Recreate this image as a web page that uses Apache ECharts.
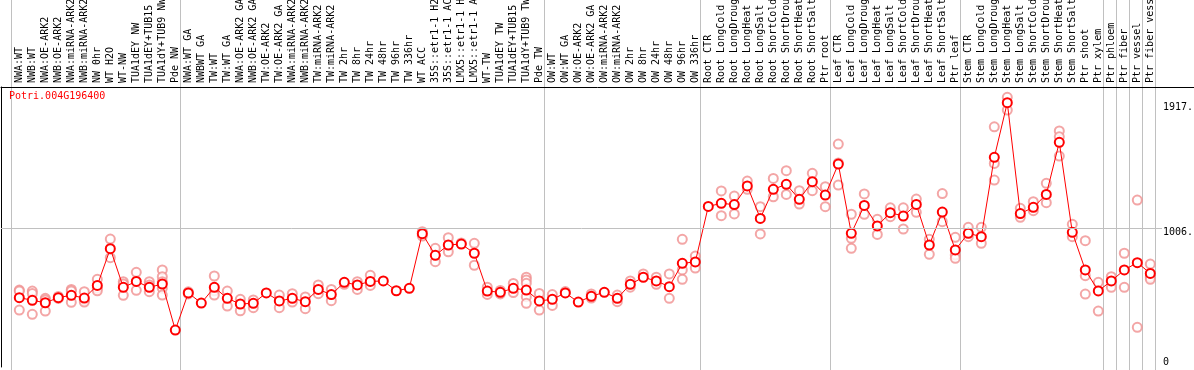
<!DOCTYPE html>
<html><head><meta charset="utf-8">
<script src="https://cdn.jsdelivr.net/npm/echarts@6/dist/echarts.min.js"></script>
<style>html,body{margin:0;padding:0;background:#fff}#c{width:1194px;height:370px}</style>
</head><body><div id="c"></div>
<script>
const geneId = 'Potri.004G196400';
const categories = [
  'NWA:WT','NWB:WT','NWA:OE-ARK2','NWB:OE-ARK2','NWA:miRNA-ARK2','NWB:miRNA-ARK2','NW 0hr','WT H2O','WT-NW','TUA1dEY NW','TUA1dEY+TUB15 NW','TUA1dY+TUB9 NW','Pde NW',
  'NWA:WT GA','NWBWT GA','TW:WT','TW:WT GA','NWA:OE-ARK2 GA','NWB:OE-ARK2 GA','TW:OE-ARK2','TW:OE-ARK2 GA','NWA:miRNA-ARK2','NWB:miRNA-ARK2','TW:miRNA-ARK2','TW:miRNA-ARK2',
  'TW 2hr','TW 8hr','TW 24hr','TW 48hr','TW 96hr','TW 336hr','WT ACC','35S::etr1-1 H2O','35S::etr1-1 ACC','LMX5::etr1-1 H2O','LMX5::etr1-1 ACC','WT-TW','TUA1dEY TW','TUA1dEY+TUB15 TW','TUA1dY+TUB9 TW','Pde TW',
  'OW:WT','OW:WT GA','OW:OE-ARK2','OW:OE-ARK2 GA','OW:miRNA-ARK2','OW:miRNA-ARK2','OW 2hr','OW 8hr','OW 24hr','OW 48hr','OW 96hr','OW 336hr',
  'Root CTR','Root LongCold','Root LongDrought','Root LongHeat','Root LongSalt','Root ShortCold','Root ShortDrought','Root ShortHeat','Root ShortSalt','Ptr root',
  'Leaf CTR','Leaf LongCold','Leaf LongDrought','Leaf LongHeat','Leaf LongSalt','Leaf ShortCold','Leaf ShortDrought','Leaf ShortHeat','Leaf ShortSalt','Ptr leaf',
  'Stem CTR','Stem LongCold','Stem LongDrought','Stem LongHeat','Stem LongSalt','Stem ShortCold','Stem ShortDrought','Stem ShortHeat','Stem ShortSalt','Ptr shoot','Ptr xylem',
  'Ptr phloem','Ptr fiber','Ptr vessel','Ptr fiber vessel'
];
const means = [
  503,484,466,503,520,500,592,858,578,621,578,602,268,
  537,464,578,498,457,462,537,479,498,474,563,525,614,595,621,624,553,571,967,810,885,892,825,551,542,571,558,479,
  491,537,471,513,542,498,600,651,624,583,752,762,
  1165,1187,1178,1313,1078,1289,1325,1216,1344,1247,
  1472,970,1172,1023,1119,1095,1179,885,1124,849,
  970,945,1521,1917,1113,1158,1252,1630,977,704,552,
  624,704,757,679
];
const replicates = [
  [558,551,413],[551,534,382],[498,486,406],[512,497],[563,551,469],[546,486,471],[636,571,553],[928,793],[619,602,520],[687,556],[619,595,546],[704,655,619,571,522],[],
  [545,530],[],[660,553,522],[551,442],[491,408],[486,430],[],[522,430],[532,471],[508,423],[595,532],[563,481],[600],[619,563],[665,592],[],[],[],[981,950],[861,764],[938,836],[900],[897,738],[579,526],[555,530],[606,540],[651,631,607,510,462],[534,413],
  [525,447],[547],[],[530,500],[],[522,474],[624,579],[675],[651,600],[675,498],[926,704,636],[805,718],
  [],[1277,1098],[1240,1110],[1349,1289],[1163,965],[1368,1235],[1424,1252],[1279,1182],[1405,1279],[1308,1163],
  [1617,1480,1320],[1108,933,861],[1255,1108],[1071,962],[1155,1090],[1155,1001],[1218,1122],[926,817],[1258,1054],[941,812,788],
  [1013,945],[1013,897],[1742,1477,1356],[1956,1864],[1151,1086],[1199,1134],[1332,1192],[1712,1670,1530],[1035,945],[916,662,529],[614,406],
  [655,578],[825,578],[1211,288],[747,651,636]
];
const groupStarts = [0,13,41,53,63,73,84,85,86,87];
const yTickValues = [0, 1006, 1917];
const yTickLabels = ['0', '1006.', '1917.'];
const refLineValue = 1006;
const yMax = 2031;

const MONO = 'DejaVu Sans Mono';
const repData = [];
replicates.forEach((arr, i) => arr.forEach(v => repData.push([i, v])));

const chart = echarts.init(document.getElementById('c'), null, {renderer: 'canvas'});
const hidden = {show: false};
const gridBase = {outerBoundsMode: 'none', containLabel: false};
chart.setOption({
  animation: false,
  backgroundColor: '#fff',
  title: {text: geneId, left: 9, top: 91, padding: 0,
    textStyle: {color: '#ff0000', fontSize: 10, fontFamily: MONO, fontWeight: 'normal'}},
  grid: [
    Object.assign({left: 1, right: 0, top: 87, bottom: 3}, gridBase),
    Object.assign({left: 1, right: 32, top: 87, bottom: 3}, gridBase),
    Object.assign({left: 11, right: 39, top: 0, bottom: 0}, gridBase),
    Object.assign({left: 12.8, right: 37.2, top: 87, bottom: 3}, gridBase)
  ],
  xAxis: [
    {gridIndex: 0, type: 'value', min: 0, max: 1, position: 'top',
      axisLine: {show: true, onZero: false, lineStyle: {color: '#000', width: 1}}, axisTick: hidden, axisLabel: hidden, splitLine: hidden},
    {gridIndex: 1, type: 'value', min: 0, max: 1, show: false},
    {gridIndex: 2, type: 'category', data: categories, boundaryGap: true,
      axisLine: hidden, axisTick: hidden, axisLabel: hidden,
      splitLine: {show: true, interval: (idx) => groupStarts.includes(idx), lineStyle: {color: '#c0c0c0', width: 1}}},
    {gridIndex: 3, type: 'category', data: categories, boundaryGap: true, position: 'top',
      axisLine: hidden, axisTick: hidden, splitLine: hidden,
      axisLabel: {interval: 0, rotate: 90, margin: 4, color: '#000', fontSize: 10, fontFamily: MONO}}
  ],
  yAxis: [
    {gridIndex: 0, type: 'value', min: 0, max: 1, position: 'left',
      axisLine: {show: true, onZero: false, lineStyle: {color: '#000', width: 1}}, axisTick: hidden, axisLabel: hidden, splitLine: hidden},
    {gridIndex: 1, type: 'value', min: 0, max: yMax, position: 'right',
      axisLine: hidden, axisTick: hidden, splitLine: hidden,
      axisLabel: {show: true, margin: 1, color: '#000', fontSize: 10, fontFamily: MONO, align: 'left',
        customValues: yTickValues,
        formatter: (v) => {
          const lab = yTickLabels[yTickValues.indexOf(v)];
          return v === 0 ? '{b|' + lab + '}' : '{t|' + lab + '}';
        },
        rich: {
          t: {padding: [9, 0, 0, 0], fontSize: 10, fontFamily: MONO, color: '#000'},
          b: {padding: [0, 0, 9, 0], fontSize: 10, fontFamily: MONO, color: '#000'}
        }}},
    {gridIndex: 2, type: 'value', min: 0, max: 1, position: 'right',
      axisLine: {show: true, onZero: false, lineStyle: {color: '#c0c0c0', width: 1}}, axisTick: hidden, axisLabel: hidden, splitLine: hidden},
    {gridIndex: 3, type: 'value', min: 0, max: yMax, show: false}
  ],
  series: [
    {type: 'line', xAxisIndex: 1, yAxisIndex: 1, data: [], silent: true,
      markLine: {silent: true, symbol: ['none', 'none'], label: {show: false},
        lineStyle: {color: '#c0c0c0', type: 'solid', width: 1},
        data: [{yAxis: refLineValue}]}},
    {type: 'scatter', xAxisIndex: 3, yAxisIndex: 3, data: repData, z: 3,
      symbol: 'emptyCircle', symbolSize: 9,
      itemStyle: {color: '#f09090', borderColor: '#f09090', borderWidth: 1.2}},
    {type: 'line', xAxisIndex: 3, yAxisIndex: 3, data: means, z: 4,
      symbol: 'emptyCircle', symbolSize: 9,
      lineStyle: {color: '#ff0000', width: 1},
      itemStyle: {color: '#ff0000', borderColor: '#ff0000', borderWidth: 1.6}}
  ]
});
</script></body></html>
